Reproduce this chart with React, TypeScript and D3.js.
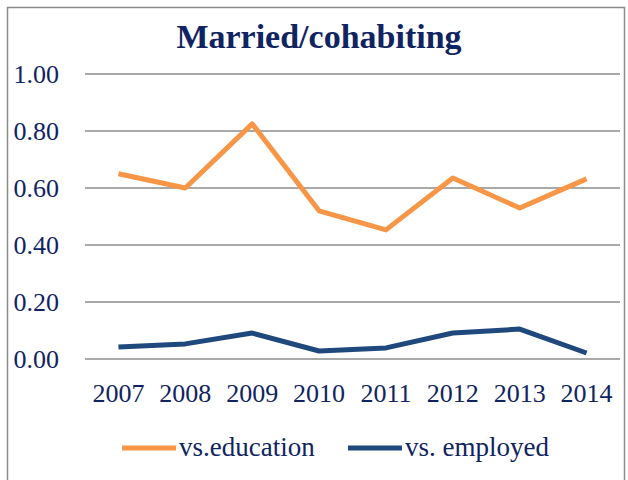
import { useEffect, useRef } from "react";
import * as d3 from "d3";

const years = ["2007", "2008", "2009", "2010", "2011", "2012", "2013", "2014"];
const vsEducation = [0.65, 0.6, 0.825, 0.52, 0.453, 0.635, 0.53, 0.632];
const vsEmployed = [0.042, 0.053, 0.091, 0.028, 0.039, 0.091, 0.105, 0.021];
const yTicks = [0, 0.2, 0.4, 0.6, 0.8, 1.0];
const seriesNames = ["vs.education", "vs. employed"];
const seriesColors = ["#f79646", "#1f497d"];

const App = () => {
  const svgRef = useRef<SVGSVGElement | null>(null);
  const width = 628;
  const height = 480;
  const margin = { top: 74, right: 8, bottom: 121, left: 85 };
  const font = "'Liberation Serif', 'DejaVu Serif', serif";
  const textColor = "#0f2461";

  useEffect(() => {
    const svg = d3.select(svgRef.current);
    svg.selectAll("*").remove();

    const x = d3
      .scaleBand()
      .domain(years)
      .range([margin.left, width - margin.right]);
    const y = d3
      .scaleLinear()
      .domain([0, 1])
      .range([height - margin.bottom, margin.top]);

    // outer frame
    svg
      .append("rect")
      .attr("x", 7.5)
      .attr("y", 7.5)
      .attr("width", 617)
      .attr("height", 490)
      .attr("fill", "#fff")
      .attr("stroke", "#8a8a8a")
      .attr("stroke-width", 1.5);

    // title
    svg
      .append("text")
      .attr("x", 319)
      .attr("y", 48)
      .attr("text-anchor", "middle")
      .attr("font-family", font)
      .attr("font-weight", "bold")
      .attr("font-size", "34px")
      .attr("fill", textColor)
      .text("Married/cohabiting");

    // gridlines
    svg
      .selectAll(".grid")
      .data(yTicks)
      .enter()
      .append("line")
      .attr("x1", margin.left)
      .attr("x2", width - margin.right)
      .attr("y1", (d) => y(d))
      .attr("y2", (d) => y(d))
      .attr("stroke", "#8c8c8c")
      .attr("stroke-width", 1.5);

    // y labels
    svg
      .selectAll(".ylab")
      .data(yTicks)
      .enter()
      .append("text")
      .attr("x", 59)
      .attr("y", (d) => y(d) + 9)
      .attr("text-anchor", "end")
      .attr("font-family", font)
      .attr("font-size", "26px")
      .attr("fill", textColor)
      .text((d) => d.toFixed(2));

    // x labels
    svg
      .selectAll(".xlab")
      .data(years)
      .enter()
      .append("text")
      .attr("x", (d) => (x(d) as number) + x.bandwidth() / 2)
      .attr("y", 402)
      .attr("text-anchor", "middle")
      .attr("font-family", font)
      .attr("font-size", "26px")
      .attr("fill", textColor)
      .text((d) => d);

    const line = d3
      .line<number>()
      .x((_, i) => (x(years[i]) as number) + x.bandwidth() / 2)
      .y((d) => y(d));

    [vsEducation, vsEmployed].forEach((s, i) => {
      svg
        .append("path")
        .attr("d", line(s))
        .attr("fill", "none")
        .attr("stroke", seriesColors[i])
        .attr("stroke-width", 5)
        .attr("stroke-linejoin", "round");
    });

    // legend
    const legendX = [122, 348];
    seriesNames.forEach((name, i) => {
      svg
        .append("line")
        .attr("x1", legendX[i])
        .attr("x2", legendX[i] + 54)
        .attr("y1", 448)
        .attr("y2", 448)
        .attr("stroke", seriesColors[i])
        .attr("stroke-width", 5);
      svg
        .append("text")
        .attr("x", legendX[i] + 57)
        .attr("y", 456)
        .attr("font-family", font)
        .attr("font-size", "27px")
        .attr("fill", textColor)
        .text(name);
    });
  }, []);

  return (
    <div style={{ position: "absolute", left: 0, top: 0 }}>
      <svg ref={svgRef} width={width} height={height} />
    </div>
  );
};

export default App;
